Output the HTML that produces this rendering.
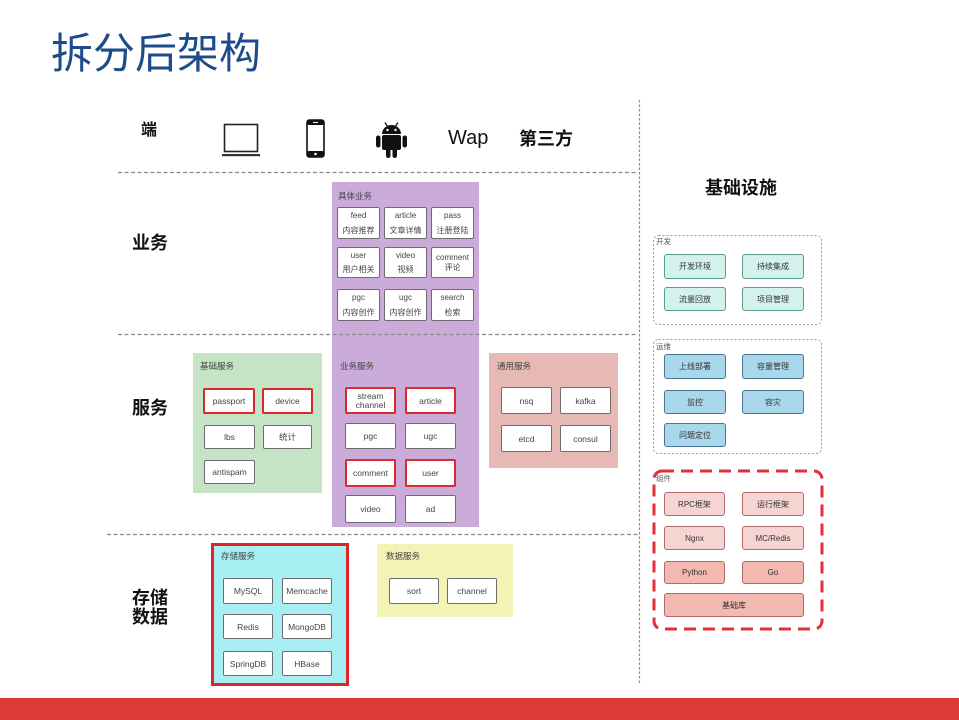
<!DOCTYPE html>
<html><head><meta charset="utf-8">
<style>
html,body{margin:0;padding:0;}
body{width:959px;height:720px;position:relative;overflow:hidden;background:#fff;font-family:"Liberation Sans","Noto Sans CJK SC",sans-serif;}
.a{position:absolute;}
.t{position:absolute;white-space:nowrap;font-family:"Liberation Sans","Noto Sans CJK SC",sans-serif;}
.sec{font-size:18px;font-weight:bold;color:#111;line-height:18px;}
.reg{position:absolute;box-sizing:border-box;}
.lbl{position:absolute;font-size:8.5px;color:#444;white-space:nowrap;line-height:10px;}
.c{position:absolute;box-sizing:border-box;background:#fff;border:1px solid #6d6d6d;border-radius:2px;font-size:8.5px;color:#444;display:flex;align-items:center;justify-content:center;text-align:center;line-height:10px;white-space:nowrap;}
.r{border:2px solid #d9282e;}
.d{flex-direction:column;justify-content:space-between;padding:3px 0 2px 0;font-size:8px;color:#444;}
.d2{flex-direction:column;justify-content:center;font-size:8px;color:#444;}
.k{position:absolute;box-sizing:border-box;border-radius:3px;font-size:8px;color:#333;display:flex;align-items:center;justify-content:center;white-space:nowrap;}
.dev{background:#d4f2ec;border:1.5px solid #5b9a8f;}
.ops{background:#a9d7eb;border:1.5px solid #4b7592;}
.cmp{background:#f6d4d2;border:1.5px solid #b26a6a;}
.cmp2{background:#f3b8b0;border:1.5px solid #b26a6a;}
.small{position:absolute;font-size:7.5px;color:#555;line-height:9px;}
</style></head>
<body>

<!-- Title -->
<div class="t" style="left:51px;top:32px;font-size:42px;line-height:44px;color:#1d4c8b;">拆分后架构</div>

<!-- 端 row -->
<div class="t" style="left:141px;top:122px;font-size:16px;line-height:17px;font-weight:bold;color:#111;">端</div>
<svg class="a" style="left:222px;top:122px" width="38" height="35" viewBox="0 0 38 35">
  <rect x="2.5" y="2.5" width="33" height="27" fill="none" stroke="#222" stroke-width="1.6"/>
  <rect x="0" y="32" width="38" height="2.2" fill="#333"/>
</svg>
<svg class="a" style="left:306px;top:119px" width="19" height="39" viewBox="0 0 19 39">
  <rect x="1" y="1" width="17" height="37" rx="2.5" fill="#fff" stroke="#111" stroke-width="1.6"/>
  <rect x="1" y="1" width="17" height="5" rx="2" fill="#111"/>
  <rect x="1" y="32" width="17" height="6" rx="2" fill="#111"/>
  <circle cx="9.5" cy="35" r="1.3" fill="#fff"/>
  <rect x="7" y="3" width="5" height="1" fill="#fff"/>
</svg>
<svg class="a" style="left:376px;top:122px" width="31" height="36" viewBox="0 0 31 36">
  <line x1="9" y1="0.5" x2="11.5" y2="4.5" stroke="#111" stroke-width="1.3"/>
  <line x1="22" y1="0.5" x2="19.5" y2="4.5" stroke="#111" stroke-width="1.3"/>
  <path d="M6,12 A9.5,9 0 0 1 25,12 Z" fill="#111"/>
  <circle cx="11.5" cy="8" r="1.2" fill="#fff"/>
  <circle cx="19.5" cy="8" r="1.2" fill="#fff"/>
  <rect x="6" y="13" width="19" height="15" rx="2" fill="#111"/>
  <rect x="0" y="13.5" width="4.5" height="12" rx="2.2" fill="#111"/>
  <rect x="26.5" y="13.5" width="4.5" height="12" rx="2.2" fill="#111"/>
  <rect x="10" y="25" width="4.5" height="11" rx="2.2" fill="#111"/>
  <rect x="16.5" y="25" width="4.5" height="11" rx="2.2" fill="#111"/>
</svg>
<div class="t" style="left:448px;top:128px;font-size:20px;line-height:20px;color:#111;">Wap</div>
<div class="t" style="left:519px;top:130px;font-size:18px;line-height:18px;font-weight:bold;color:#111;">第三方</div>

<!-- Section labels -->
<div class="t sec" style="left:132px;top:234px;">业务</div>
<div class="t sec" style="left:132px;top:399px;">服务</div>
<div class="t sec" style="left:132px;top:589px;line-height:19px;">存储<br>数据</div>
<div class="t sec" style="left:705px;top:179px;">基础设施</div>

<!-- Purple column -->
<div class="reg" style="left:332px;top:182px;width:147px;height:345px;background:#cbabd9;"></div>
<div class="lbl" style="left:338px;top:191px;">具体业务</div>
<div class="c d" style="left:337px;top:207px;width:43px;height:32px;"><span>feed</span><span>内容推荐</span></div>
<div class="c d" style="left:384px;top:207px;width:43px;height:32px;"><span>article</span><span>文章详情</span></div>
<div class="c d" style="left:431px;top:207px;width:43px;height:32px;"><span>pass</span><span>注册登陆</span></div>
<div class="c d" style="left:337px;top:247px;width:43px;height:31px;"><span>user</span><span>用户相关</span></div>
<div class="c d" style="left:384px;top:247px;width:43px;height:31px;"><span>video</span><span>视频</span></div>
<div class="c d2" style="left:431px;top:247px;width:43px;height:31px;"><span>comment</span><span>评论</span></div>
<div class="c d" style="left:337px;top:289px;width:43px;height:32px;"><span>pgc</span><span>内容创作</span></div>
<div class="c d" style="left:384px;top:289px;width:43px;height:32px;"><span>ugc</span><span>内容创作</span></div>
<div class="c d" style="left:431px;top:289px;width:43px;height:32px;"><span>search</span><span>检索</span></div>

<div class="lbl" style="left:340px;top:361px;">业务服务</div>
<div class="c r" style="left:345px;top:387px;width:51px;height:27px;line-height:9px;">stream<br>channel</div>
<div class="c r" style="left:405px;top:387px;width:51px;height:27px;">article</div>
<div class="c" style="left:345px;top:423px;width:51px;height:26px;">pgc</div>
<div class="c" style="left:405px;top:423px;width:51px;height:26px;">ugc</div>
<div class="c r" style="left:345px;top:459px;width:51px;height:28px;">comment</div>
<div class="c r" style="left:405px;top:459px;width:51px;height:28px;">user</div>
<div class="c" style="left:345px;top:495px;width:51px;height:28px;">video</div>
<div class="c" style="left:405px;top:495px;width:51px;height:28px;">ad</div>

<!-- Green 基础服务 -->
<div class="reg" style="left:193px;top:353px;width:129px;height:140px;background:#c4e4c5;"></div>
<div class="lbl" style="left:200px;top:361px;">基础服务</div>
<div class="c r" style="left:203px;top:388px;width:52px;height:26px;">passport</div>
<div class="c r" style="left:262px;top:388px;width:51px;height:26px;">device</div>
<div class="c" style="left:204px;top:425px;width:51px;height:24px;">lbs</div>
<div class="c" style="left:263px;top:425px;width:49px;height:24px;">统计</div>
<div class="c" style="left:204px;top:460px;width:51px;height:24px;">antispam</div>

<!-- Pink 通用服务 -->
<div class="reg" style="left:489px;top:353px;width:129px;height:115px;background:#e7b9b5;"></div>
<div class="lbl" style="left:497px;top:361px;">通用服务</div>
<div class="c" style="left:501px;top:387px;width:51px;height:27px;">nsq</div>
<div class="c" style="left:560px;top:387px;width:51px;height:27px;">kafka</div>
<div class="c" style="left:501px;top:425px;width:51px;height:27px;">etcd</div>
<div class="c" style="left:560px;top:425px;width:51px;height:27px;">consul</div>

<!-- Cyan 存储服务 -->
<div class="reg" style="left:211px;top:543px;width:138px;height:143px;background:#a7eff2;border:3px solid #e0232b;"></div>
<div class="lbl" style="left:221px;top:551px;">存储服务</div>
<div class="c" style="left:223px;top:578px;width:50px;height:26px;">MySQL</div>
<div class="c" style="left:282px;top:578px;width:50px;height:26px;">Memcache</div>
<div class="c" style="left:223px;top:614px;width:50px;height:25px;">Redis</div>
<div class="c" style="left:282px;top:614px;width:50px;height:25px;">MongoDB</div>
<div class="c" style="left:223px;top:651px;width:50px;height:25px;">SpringDB</div>
<div class="c" style="left:282px;top:651px;width:50px;height:25px;">HBase</div>

<!-- Yellow 数据服务 -->
<div class="reg" style="left:377px;top:544px;width:136px;height:73px;background:#f4f3b6;"></div>
<div class="lbl" style="left:386px;top:551px;">数据服务</div>
<div class="c" style="left:389px;top:578px;width:50px;height:26px;">sort</div>
<div class="c" style="left:447px;top:578px;width:50px;height:26px;">channel</div>

<!-- Right side cells -->
<div class="small" style="left:656px;top:237px;">开发</div>
<div class="k dev" style="left:664px;top:254px;width:62px;height:25px;">开发环境</div>
<div class="k dev" style="left:742px;top:254px;width:62px;height:25px;">持续集成</div>
<div class="k dev" style="left:664px;top:287px;width:62px;height:24px;">流量回放</div>
<div class="k dev" style="left:742px;top:287px;width:62px;height:24px;">项目管理</div>

<div class="small" style="left:656px;top:342px;">运维</div>
<div class="k ops" style="left:664px;top:354px;width:62px;height:25px;">上线部署</div>
<div class="k ops" style="left:742px;top:354px;width:62px;height:25px;">容量管理</div>
<div class="k ops" style="left:664px;top:390px;width:62px;height:24px;">监控</div>
<div class="k ops" style="left:742px;top:390px;width:62px;height:24px;">容灾</div>
<div class="k ops" style="left:664px;top:423px;width:62px;height:24px;">问题定位</div>

<div class="small" style="left:656px;top:474px;">组件</div>
<div class="k cmp" style="left:664px;top:492px;width:61px;height:24px;">RPC框架</div>
<div class="k cmp" style="left:742px;top:492px;width:62px;height:24px;">运行框架</div>
<div class="k cmp" style="left:664px;top:526px;width:61px;height:24px;">Ngnx</div>
<div class="k cmp" style="left:742px;top:526px;width:62px;height:24px;">MC/Redis</div>
<div class="k cmp2" style="left:664px;top:561px;width:61px;height:23px;">Python</div>
<div class="k cmp2" style="left:742px;top:561px;width:62px;height:23px;">Go</div>
<div class="k cmp2" style="left:664px;top:593px;width:140px;height:24px;">基础库</div>

<!-- Lines and dashed boxes -->
<svg class="a" style="left:0;top:0" width="959" height="720" viewBox="0 0 959 720">
  <g stroke="#8a8a8a" stroke-width="1.2" fill="none" stroke-dasharray="4 2.5">
    <line x1="118" y1="172.5" x2="638" y2="172.5"/>
    <line x1="118" y1="334.5" x2="638" y2="334.5"/>
    <line x1="107" y1="534.5" x2="638" y2="534.5"/>
  </g>
  <line x1="639.5" y1="100" x2="639.5" y2="683" stroke="#8a8a8a" stroke-width="1.2" stroke-dasharray="2.5 2"/>
  <rect x="653.5" y="235.5" width="168" height="89" rx="5" fill="none" stroke="#9a9a9a" stroke-width="1" stroke-dasharray="2 2"/>
  <rect x="653.5" y="339.5" width="168" height="114" rx="5" fill="none" stroke="#9a9a9a" stroke-width="1" stroke-dasharray="2 2"/>
  <rect x="654" y="471" width="168" height="158" rx="8" fill="none" stroke="#e0303a" stroke-width="3" stroke-dasharray="12 7"/>
</svg>

<!-- Bottom red bar -->
<div class="a" style="left:0;top:698px;width:959px;height:22px;background:#db3a35;"></div>

</body></html>
